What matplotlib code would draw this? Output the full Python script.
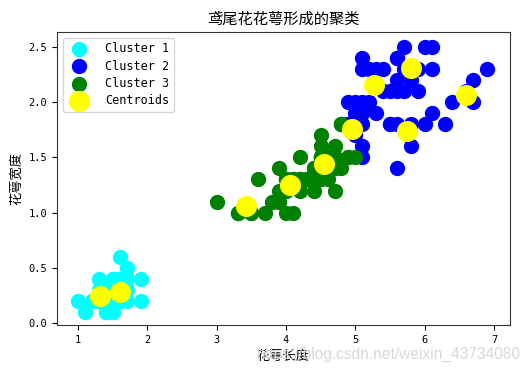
import matplotlib
matplotlib.use("Agg")
import matplotlib.pyplot as plt

plt.rcParams['font.family'] = ['DejaVu Sans Mono', 'Noto Sans CJK SC']
plt.rcParams['axes.unicode_minus'] = False

# cluster 1 (petal length, petal width)
c1_x = [1.4, 1.4, 1.3, 1.5, 1.4, 1.7, 1.4, 1.5, 1.4, 1.5, 1.5, 1.6, 1.4, 1.1, 1.2, 1.5, 1.3,
        1.4, 1.7, 1.5, 1.7, 1.5, 1.0, 1.7, 1.9, 1.6, 1.6, 1.5, 1.4, 1.6, 1.6, 1.5, 1.5, 1.4,
        1.5, 1.2, 1.3, 1.4, 1.3, 1.5, 1.3, 1.3, 1.3, 1.6, 1.9, 1.4, 1.6, 1.4, 1.5, 1.4]
c1_y = [0.2, 0.2, 0.2, 0.2, 0.2, 0.4, 0.3, 0.2, 0.2, 0.1, 0.2, 0.2, 0.1, 0.1, 0.2, 0.4, 0.4,
        0.3, 0.3, 0.3, 0.2, 0.4, 0.2, 0.5, 0.2, 0.2, 0.4, 0.2, 0.2, 0.2, 0.2, 0.4, 0.1, 0.2,
        0.2, 0.2, 0.2, 0.1, 0.2, 0.2, 0.3, 0.3, 0.2, 0.6, 0.4, 0.3, 0.2, 0.2, 0.2, 0.2]

# cluster 2
c2_x = [5.0, 5.1, 6.0, 5.1, 5.9, 5.6, 5.8, 6.6, 6.3, 5.8, 6.1, 5.1, 5.3, 5.5, 5.0, 5.1, 5.3,
        5.5, 6.7, 6.9, 5.7, 4.9, 6.7, 4.9, 5.7, 6.0, 4.9, 5.6, 5.8, 6.1, 6.4, 5.6, 5.1, 5.6,
        6.1, 5.6, 5.5, 5.4, 5.6, 5.1, 5.1, 5.9, 5.7, 5.2, 5.0, 5.2, 5.4, 5.1]
c2_y = [1.7, 1.6, 2.5, 1.9, 2.1, 1.8, 2.2, 2.1, 1.8, 1.8, 2.5, 2.0, 1.9, 2.1, 2.0, 2.4, 2.3,
        1.8, 2.2, 2.3, 2.3, 2.0, 2.0, 1.8, 2.1, 1.8, 1.8, 2.1, 1.6, 1.9, 2.0, 2.2, 1.5, 1.4,
        2.3, 2.4, 1.8, 2.1, 2.4, 2.3, 1.9, 2.3, 2.5, 2.3, 1.9, 2.0, 2.3, 1.8]

# cluster 3
c3_x = [4.7, 4.5, 4.9, 4.0, 4.6, 4.5, 4.7, 3.3, 4.6, 3.9, 3.5, 4.2, 4.0, 4.7, 3.6, 4.4, 4.5,
        4.1, 4.5, 3.9, 4.8, 4.0, 4.9, 4.7, 4.3, 4.4, 4.8, 4.5, 3.5, 3.8, 3.7, 3.9, 4.5, 4.5,
        4.7, 4.4, 4.1, 4.0, 4.4, 4.6, 4.0, 3.3, 4.2, 4.2, 4.2, 4.3, 3.0, 4.1, 4.5, 5.0, 4.8, 4.8]
c3_y = [1.4, 1.5, 1.5, 1.3, 1.5, 1.3, 1.6, 1.0, 1.3, 1.4, 1.0, 1.5, 1.0, 1.4, 1.3, 1.4, 1.5,
        1.0, 1.5, 1.1, 1.8, 1.3, 1.5, 1.2, 1.3, 1.4, 1.4, 1.5, 1.0, 1.1, 1.0, 1.2, 1.5, 1.6,
        1.5, 1.3, 1.3, 1.3, 1.2, 1.4, 1.2, 1.0, 1.3, 1.2, 1.3, 1.3, 1.1, 1.3, 1.7, 1.5, 1.8, 1.8]

cent_x = [1.31, 1.60, 3.42, 4.06, 4.55, 4.95, 5.27, 5.80, 5.74, 6.60]
cent_y = [0.24, 0.28, 1.06, 1.25, 1.44, 1.76, 2.16, 2.31, 1.74, 2.07]

fig = plt.figure(figsize=(5.3, 3.75), dpi=100)
ax = fig.add_axes([0.107, 0.1333, 0.855, 0.782])

ax.scatter(c1_x, c1_y, s=100, c='cyan', label='Cluster 1')
ax.scatter(c2_x, c2_y, s=100, c='blue', label='Cluster 2')
ax.scatter(c3_x, c3_y, s=100, c='green', label='Cluster 3')
ax.scatter(cent_x, cent_y, s=200, c='yellow', label='Centroids')

ax.set_xlim(0.69, 7.23)
ax.set_ylim(-0.02, 2.64)
ax.set_xticks([1, 2, 3, 4, 5, 6, 7])
ax.set_yticks([0.0, 0.5, 1.0, 1.5, 2.0, 2.5])
ax.tick_params(labelsize=7.5, length=3.5)
for sp in ax.spines.values():
    sp.set_color('#333333')

ax.set_title('鸢尾花花萼形成的聚类', fontsize=11, pad=6)
ax.set_xlabel('花萼长度', fontsize=9.5)
ax.set_ylabel('花萼宽度', fontsize=9.5)
ax.legend(loc='upper left', fontsize=8.5, handletextpad=1.2, borderpad=0.4, labelspacing=0.35)

# csdn watermark
fig.text(0.982, 0.035, 'https://blog.csdn.net/weixin_43734080', ha='right', va='bottom',
         fontsize=11.2, color='#d8d8d8', family=['Liberation Sans', 'DejaVu Sans'])

fig.savefig('out.png', dpi=100)
